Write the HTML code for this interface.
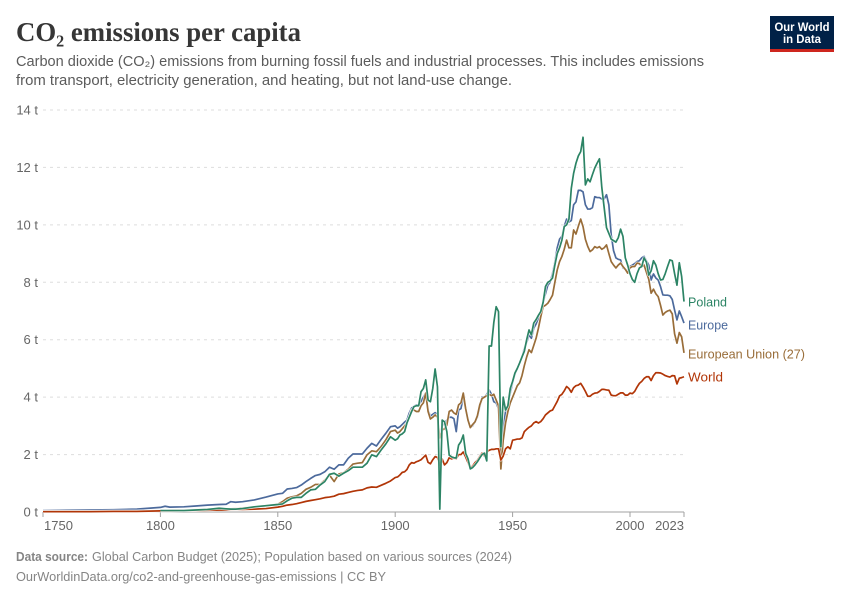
<!DOCTYPE html>
<html lang="en">
<head>
<meta charset="utf-8">
<title>CO₂ emissions per capita</title>
<style>
html,body{margin:0;padding:0;background:#fff;}
svg{display:block;}
text{font-family:"Liberation Sans",sans-serif;}
</style>
</head>
<body>
<svg id="chart" xmlns="http://www.w3.org/2000/svg" width="850" height="600" viewBox="0 0 850 600">
  <rect x="0" y="0" width="850" height="600" fill="#ffffff"/>
  <text x="16" y="41" font-family="Liberation Serif, serif" style="font-family:'Liberation Serif',serif" font-weight="700" font-size="27" fill="#363636" textLength="285" lengthAdjust="spacingAndGlyphs">CO₂ emissions per capita</text>
  <text x="16" y="66" font-size="14.5" fill="#5b5b5b" textLength="688" lengthAdjust="spacingAndGlyphs">Carbon dioxide (CO₂) emissions from burning fossil fuels and industrial processes. This includes emissions</text>
  <text x="16" y="85" font-size="14.5" fill="#5b5b5b" textLength="496" lengthAdjust="spacingAndGlyphs">from transport, electricity generation, and heating, but not land-use change.</text>

  <g>
    <rect x="770" y="16" width="64" height="33" fill="#002147"/>
    <rect x="770" y="49" width="64" height="3" fill="#ce261e"/>
    <text x="802" y="31" font-size="12" font-weight="700" fill="#ffffff" text-anchor="middle" textLength="55" lengthAdjust="spacingAndGlyphs">Our World</text>
    <text x="802" y="43" font-size="12" font-weight="700" fill="#ffffff" text-anchor="middle" textLength="38" lengthAdjust="spacingAndGlyphs">in Data</text>
  </g>

  <g id="grid"></g>
  <g id="yaxis"></g>
  <g id="xaxis"></g>
  <g id="series"></g>
  <g id="labels"></g>

  <text x="16" y="561" font-size="13" fill="#858585"><tspan font-weight="700" textLength="72" lengthAdjust="spacingAndGlyphs">Data source:</tspan></text>
  <text x="92" y="561" font-size="13" fill="#858585" textLength="420" lengthAdjust="spacingAndGlyphs">Global Carbon Budget (2025); Population based on various sources (2024)</text>
  <text x="16" y="581" font-size="13" fill="#858585" textLength="370" lengthAdjust="spacingAndGlyphs">OurWorldinData.org/co2-and-greenhouse-gas-emissions | CC BY</text>
</svg>
<script>
const years = [
  1750,1760,1770,1780,1790,
  1800,1802,1804,1810,1815,1820,1825,1828,1830,1832,1835,1840,1845,1850,
  1852,1854,1856,1858,1860,1862,1864,1866,1868,1870,1872,1874,1876,1878,1880,1882,1884,1886,1888,1890,1892,1894,1896,1898,
  1900,1901,1902,1903,1904,1905,1906,1907,1908,1909,
  1910,1911,1912,1913,1914,1915,1916,1917,1918,1919,
  1920,1921,1922,1923,1924,1925,1926,1927,1928,1929,
  1930,1931,1932,1933,1934,1935,1936,1937,1938,1939,
  1940,1941,1942,1943,1944,1945,1946,1947,1948,1949,
  1950,1951,1952,1953,1954,1955,1956,1957,1958,1959,
  1960,1961,1962,1963,1964,1965,1966,1967,1968,1969,
  1970,1971,1972,1973,1974,1975,1976,1977,1978,1979,
  1980,1981,1982,1983,1984,1985,1986,1987,1988,1989,
  1990,1991,1992,1993,1994,1995,1996,1997,1998,1999,
  2000,2001,2002,2003,2004,2005,2006,2007,2008,2009,
  2010,2011,2012,2013,2014,2015,2016,2017,2018,2019,
  2020,2021,2022,2023
];
const europeValues = [
  .05,.06,.07,.08,.1,
  .16,.2,.17,.18,.21,.24,.26,.27,.36,.34,.36,.42,.52,.63,
  .65,.8,.82,.85,.94,1.06,1.17,1.27,1.31,1.4,1.56,1.49,1.64,1.64,1.87,2.02,2.02,2.02,2.22,2.39,2.3,2.53,2.74,2.97,
  3.0,2.92,2.97,3.05,3.13,3.2,3.45,3.62,3.68,3.73,
  3.73,3.85,4.0,4.14,3.55,3.34,3.4,3.46,3.4,2.68,
  3.0,3.1,3.2,3.3,3.3,3.25,2.8,3.55,3.6,4.0,
  3.6,3.2,2.95,3.0,3.14,3.3,3.65,4.0,4.0,4.1,
  4.25,4.1,3.84,3.8,3.6,1.93,2.9,3.5,3.7,4.14,
  4.5,4.8,5.0,5.2,5.4,5.7,5.9,6.17,6.05,6.4,
  6.55,6.75,7.0,7.3,7.6,7.9,8.0,8.3,8.7,9.2,
  9.5,9.6,9.95,10.2,10.1,10.15,10.7,10.8,11.2,11.2,
  11.15,10.7,10.55,10.55,10.6,10.98,10.95,10.95,10.9,10.9,
  11.05,10.7,9.65,9.1,8.85,8.8,8.78,8.5,8.45,8.4,
  8.55,8.6,8.65,8.72,8.75,8.85,8.9,8.75,8.6,8.08,
  8.29,8.15,8.08,7.85,7.56,7.55,7.55,7.53,7.4,7.03,
  6.69,7.0,6.8,6.58
];
const euValues = [
  .02,.02,.02,.03,.03,
  .05,.05,.06,.07,.08,.09,.1,.1,.11,.12,.14,.17,.22,.27,
  .36,.48,.53,.56,.65,.79,.86,.96,.96,1.11,1.29,1.06,1.32,1.37,1.49,1.67,1.7,1.72,1.99,2.13,2.1,2.28,2.51,2.8,
  2.85,2.75,2.8,2.9,3.0,3.1,3.3,3.55,3.55,3.5,
  3.5,3.7,3.8,4.14,3.5,3.24,3.3,3.38,3.3,2.58,
  2.85,2.9,3.03,3.5,3.55,3.45,3.4,3.73,3.8,4.14,
  3.6,3.2,2.94,3.05,3.14,3.35,3.73,3.95,4.0,4.05,
  4.1,4.05,4.1,3.9,3.7,1.5,2.5,3.1,3.5,3.8,
  4.0,4.2,4.4,4.5,4.75,5.1,5.4,5.65,5.55,5.8,
  6.05,6.4,6.8,7.15,7.2,7.27,7.4,7.55,8.0,8.43,
  8.72,8.9,9.15,9.47,9.2,9.2,9.82,9.68,9.95,10.2,
  9.94,9.5,9.25,9.07,9.13,9.24,9.2,9.24,9.15,9.2,
  9.3,9.0,8.72,8.6,8.5,8.6,8.67,8.55,8.45,8.32,
  8.5,8.55,8.55,8.67,8.65,8.55,8.6,8.35,8.1,7.62,
  7.76,7.6,7.5,7.2,6.86,6.95,7.0,7.03,6.9,6.2,
  5.88,6.25,6.1,5.54
];
const worldValues = [
  .01,.01,.01,.02,.02,
  .04,.04,.04,.05,.05,.06,.07,.07,.08,.09,.09,.1,.12,.17,
  .2,.24,.26,.29,.33,.37,.4,.43,.46,.5,.52,.55,.62,.64,.68,.72,.75,.77,.84,.87,.86,.93,1.0,1.08,
  1.2,1.22,1.29,1.38,1.4,1.48,1.64,1.72,1.7,1.75,
  1.78,1.82,1.9,1.98,1.73,1.68,1.82,1.93,1.9,1.64,
  1.85,1.64,1.72,1.89,1.85,1.88,1.85,2.0,2.0,2.09,
  1.92,1.72,1.53,1.6,1.72,1.8,1.93,2.05,1.95,2.08,
  2.15,2.18,2.18,2.2,2.2,1.81,1.95,2.2,2.27,2.2,
  2.5,2.52,2.54,2.54,2.58,2.8,2.88,2.95,3.0,3.1,
  3.15,3.1,3.15,3.25,3.38,3.45,3.52,3.55,3.7,3.85,
  4.04,4.1,4.22,4.37,4.3,4.17,4.33,4.4,4.42,4.48,
  4.35,4.2,4.03,4.03,4.1,4.14,4.15,4.2,4.27,4.27,
  4.25,4.24,4.07,4.05,4.05,4.1,4.15,4.15,4.07,4.07,
  4.14,4.12,4.2,4.35,4.48,4.55,4.65,4.71,4.71,4.58,
  4.75,4.85,4.85,4.84,4.8,4.75,4.72,4.7,4.75,4.74,
  4.46,4.66,4.68,4.71
];
const polandValues = [
  null,null,null,null,null,
  .05,.05,.05,.05,.07,.09,.13,.11,.1,.1,.12,.18,.22,.26,
  .28,.39,.48,.51,.51,.65,.77,.79,.94,1.06,1.31,1.35,1.25,1.35,1.44,1.56,1.56,1.56,1.7,1.99,1.93,2.16,2.37,2.62,
  2.5,2.55,2.68,2.72,2.8,3.1,3.3,3.5,3.67,3.7,
  3.7,4.19,4.3,4.6,3.9,3.84,4.3,4.98,4.36,0.1,
  3.2,3.14,2.8,1.98,1.92,1.89,1.88,2.33,2.45,2.68,
  2.05,1.85,1.5,1.55,1.64,1.75,1.88,2.0,2.05,1.78,
  5.78,5.78,6.6,7.15,6.98,2.27,4.0,3.55,3.7,4.3,
  4.55,4.84,5.0,5.19,5.4,5.6,6.0,6.34,6.17,6.58,
  6.7,6.85,6.98,7.3,7.85,8.0,8.05,8.15,8.6,9.0,
  9.2,9.47,9.94,10.0,10.2,11.27,11.8,12.15,12.4,12.55,
  13.05,11.39,11.6,11.5,11.75,11.98,12.15,12.3,11.3,10.6,
  9.9,9.7,9.5,9.45,9.4,9.55,9.85,9.6,8.85,8.6,
  8.3,8.1,8.0,8.3,8.5,8.55,8.85,8.7,8.25,8.4,
  8.75,8.6,8.3,8.08,8.1,8.3,8.55,8.78,8.75,8.3,
  7.9,8.68,8.2,7.33
];
const xTickYears = [1750,1800,1850,1900,1950,2000,2023];
const yTickValues = [0,2,4,6,8,10,12,14];
const seriesNames = ["Europe","European Union (27)","World","Poland"];

const SVGNS = "http://www.w3.org/2000/svg";
const xScale = function (year) { return 43 + (year - 1750) * (684 - 43) / (2023 - 1750); };
const yScale = function (v) { return 512 - v * (512 - 110) / 14; };
const colors = ["#4c6a9c","#996d39","#b13507","#2c8465"];
const labelY = [325,354,377,302];
const labelWidths = [40,117,35,39];
const allValues = [europeValues,euValues,worldValues,polandValues];

function mk(tag, attrs, parent, txt) {
  const el = document.createElementNS(SVGNS, tag);
  for (const k in attrs) el.setAttribute(k, attrs[k]);
  if (txt !== undefined) el.textContent = txt;
  parent.appendChild(el);
  return el;
}
function slug(s) { return s.toLowerCase().replace(/[^a-z0-9]+/g, "-").replace(/-$/, ""); }

const gridG = document.getElementById("grid");
const yG = document.getElementById("yaxis");
const xG = document.getElementById("xaxis");
const seriesG = document.getElementById("series");
const labelsG = document.getElementById("labels");

yTickValues.forEach(function (v) {
  if (v !== 0) {
    const g = mk("line", {x1:43, x2:684, y1:yScale(v), y2:yScale(v), stroke:"#dddddd", "stroke-width":1, "stroke-dasharray":"3,4"}, gridG);
    
    
  }
  const t = mk("text", {x:38, y:yScale(v) + 4.5, "text-anchor":"end", "font-size":13, fill:"#666666"}, yG, v + " t");
  
  
});

const axisLine = mk("line", {x1:43, x2:684, y1:512, y2:512, stroke:"#a1a1a1", "stroke-width":1}, xG);



xTickYears.forEach(function (yr, i) {
  const x = xScale(yr);
  const tick = mk("line", {x1:x, x2:x, y1:512, y2:517, stroke:"#a1a1a1", "stroke-width":1}, xG);
  
  
  let anchor = "middle";
  if (i === 0) anchor = "start";
  if (i === xTickYears.length - 1) anchor = "end";
  const t = mk("text", {x:x + (i === 0 ? 1 : 0), y:530, "text-anchor":anchor, "font-size":13, fill:"#666666"}, xG, String(yr));
  
  
});

allValues.forEach(function (vals, s) {
  let d = "";
  let pen = false;
  vals.forEach(function (v, i) {
    if (v === null) { pen = false; return; }
    d += (pen ? "L" : "M") + xScale(years[i]).toFixed(2) + " " + yScale(v).toFixed(2);
    pen = true;
  });
  const halo = mk("path", {d:d, fill:"none", stroke:"#ffffff", "stroke-width":3, "stroke-linejoin":"round", opacity:0.8}, seriesG);
  
  
  const line = mk("path", {d:d, fill:"none", stroke:colors[s], "stroke-width":1.7, "stroke-linejoin":"round"}, seriesG);
  
  
  const lab = mk("text", {x:688, y:labelY[s] + 4.5, "font-size":13, fill:colors[s], textLength:labelWidths[s], lengthAdjust:"spacingAndGlyphs"}, labelsG, seriesNames[s]);
  
  
});
</script>
</body>
</html>
